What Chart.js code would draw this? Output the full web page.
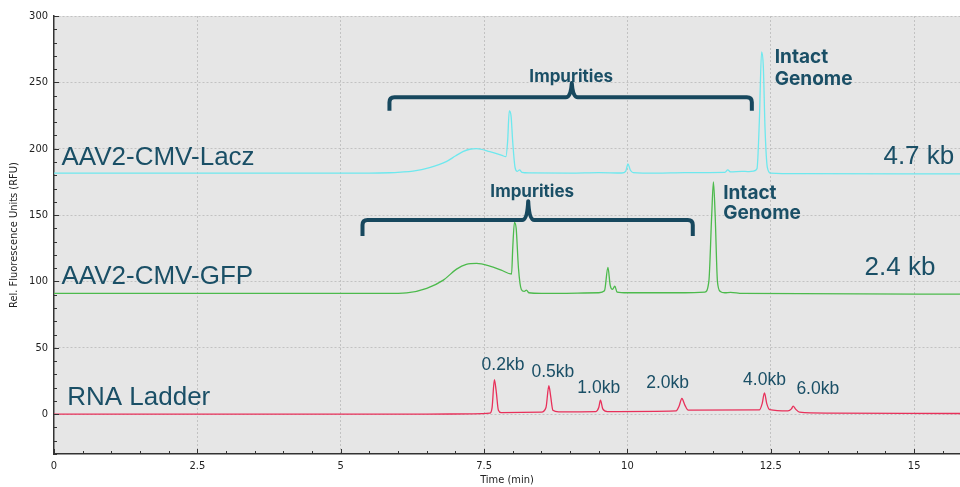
<!DOCTYPE html>
<html>
<head>
<meta charset="utf-8">
<script src="https://cdn.jsdelivr.net/npm/chart.js@4/dist/chart.umd.min.js"></script>
<style>
  html, body { margin: 0; padding: 0; background: #ffffff; }
  #wrap { width: 960px; height: 487px; }
</style>
</head>
<body>
<div id="wrap"><canvas id="c" width="960" height="487"></canvas></div>
<script>
// Electropherogram traces: migration time (min) and fluorescence (RFU)
const laczTime = [0, 5.5, 5.85, 6.05, 6.26, 6.55, 6.84, 7.0, 7.13, 7.25, 7.37, 7.6, 7.8, 7.88, 7.91, 7.94, 7.97, 8.0, 8.04, 8.08, 8.12, 8.16, 8.3, 9.0, 9.5, 9.9, 9.97, 10.01, 10.05, 10.1, 10.5, 11.0, 11.7, 11.75, 11.8, 12.0, 12.1, 12.2, 12.26, 12.3, 12.34, 12.37, 12.4, 12.44, 12.5, 13.0, 15.8];
const laczRfu  = [181.6, 181.6, 181.9, 182.4, 183.2, 185.8, 190.3, 194.5, 197.8, 199.6, 200.1, 197.8, 195.2, 194.0, 205, 228.5, 225, 205, 186, 183, 184, 182.2, 181.8, 181.6, 182, 181.7, 183, 188.5, 184, 182, 181.6, 182, 182.2, 184, 182.5, 183, 182.8, 183.2, 185, 220, 273, 262, 215, 186, 181.6, 181.2, 181];

const gfpTime = [0, 5.8, 6.15, 6.5, 6.79, 7.02, 7.19, 7.37, 7.6, 7.8, 7.98, 8.0, 8.03, 8.06, 8.1, 8.15, 8.2, 8.24, 8.28, 8.5, 9.5, 9.6, 9.66, 9.7, 9.74, 9.78, 9.82, 10.0, 11.0, 11.35, 11.42, 11.47, 11.5, 11.53, 11.57, 11.62, 11.7, 11.8, 12.0, 15.8];
const gfpRfu  = [91, 91, 91.4, 94.8, 101, 109.3, 112.9, 113.6, 111.6, 108.5, 105.6, 125, 144.5, 140, 110, 94, 92.5, 93.5, 91.5, 91, 91.5, 93, 110.5, 97, 94, 96.5, 92, 91.5, 91.5, 92, 100, 150, 175, 150, 100, 92.5, 91.5, 91.8, 91, 90.5];

const ladderTime = [0, 6.5, 7.3, 7.6, 7.64, 7.68, 7.71, 7.75, 7.8, 8.5, 8.58, 8.63, 8.66, 8.7, 8.8, 9.45, 9.5, 9.53, 9.57, 9.65, 10.85, 10.9, 10.95, 11.0, 11.06, 12.3, 12.35, 12.39, 12.43, 12.48, 12.8, 12.86, 12.89, 12.93, 13.0, 13.5, 15.8];
const ladderRfu  = [0, 0, 0.3, 0.8, 5, 26, 18, 3, 1.2, 1.5, 5, 21.5, 14, 3, 1.8, 2, 5, 10.5, 4, 2, 2.5, 6, 11.8, 7, 3, 3.2, 8, 16, 8, 3.5, 2.5, 4, 6, 4, 1.5, 0.8, 0.5];

// Sample names and fragment sizes
const traceNames = ['AAV2-CMV-Lacz', 'AAV2-CMV-GFP', 'RNA Ladder'];
const genomeSizes = ['4.7 kb', '2.4 kb'];
const ladderSizes = ['0.2kb', '0.5kb', '1.0kb', '2.0kb', '4.0kb', '6.0kb'];

// Axis ranges and tick spacing
const timeRange = [0, 15.8];
const rfuRange = [-30, 300];
const timeMajor = 2.5, timeMinor = 0.5;
const rfuMajor = 50, rfuMinor = 10;

const TEXT = '#1a4f66';
const NAME_FONT = '26px "Liberation Sans", Arial, sans-serif';
const BOLD_FONT = 'bold 19px Inter, Roboto, sans-serif';

// Text placed in data coordinates (time, RFU)
const notes = [
  { text: traceNames[0], t: 0.13, v: 193,   font: NAME_FONT, align: 'left' },
  { text: traceNames[1], t: 0.13, v: 103.3, font: NAME_FONT, align: 'left' },
  { text: traceNames[2], t: 0.23, v: 12,    font: NAME_FONT, align: 'left' },
  { text: genomeSizes[0], t: 15.7, v: 194,  font: NAME_FONT, align: 'right' },
  { text: genomeSizes[1], t: 15.37, v: 109.9, font: NAME_FONT, align: 'right' },
  { text: 'Intact', t: 12.57, v: 269,   font: BOLD_FONT, align: 'left' },
  { text: 'Genome', t: 12.57, v: 252.6, font: BOLD_FONT, align: 'left' },
  { text: 'Intact', t: 11.67, v: 166.7, font: BOLD_FONT, align: 'left' },
  { text: 'Genome', t: 11.67, v: 151.6, font: BOLD_FONT, align: 'left' },
  { text: 'Impurities', t: 9.02, v: 254.1, font: 'bold 17px Inter, Roboto, sans-serif', align: 'center' },
  { text: 'Impurities', t: 8.34, v: 167.6, font: 'bold 17px Inter, Roboto, sans-serif', align: 'center' }
];
const ladderLabelT = [7.83, 8.70, 9.50, 10.70, 12.39, 13.32];
const ladderLabelV = [37, 31.9, 19.8, 23.2, 26, 18.6];
ladderSizes.forEach((s, i) => notes.push({
  text: s, t: ladderLabelT[i], v: ladderLabelV[i],
  font: '17.5px "Liberation Sans", Arial, sans-serif', align: 'center'
}));

// Curly brackets spanning the impurity region of each sample
const brackets = [
  { left: 5.85, right: 12.17, mid: 9.03, line: 238.8, arm: 228.7, tip: 249.5 },
  { left: 5.38, right: 11.14, mid: 8.27, line: 146.3, arm: 134.3, tip: 160.5 }
];

function pts(ts, vs) { return ts.map((t, i) => ({ x: t, y: vs[i] })); }
function isMultiple(v, step) { return Math.abs(v / step - Math.round(v / step)) < 1e-6; }

const decor = {
  id: 'decor',
  beforeDraw(chart) {
    const { ctx, chartArea: a } = chart;
    ctx.save();
    ctx.fillStyle = '#e6e6e6';
    ctx.fillRect(a.left, a.top, a.right - a.left, a.bottom - a.top);
    ctx.restore();
  },
  afterDatasetsDraw(chart) {
    const { ctx } = chart;
    const xs = chart.scales.x, ys = chart.scales.y;
    ctx.save();
    // brackets
    ctx.strokeStyle = '#17485e';
    ctx.lineWidth = 4;
    ctx.lineJoin = 'round';
    ctx.lineCap = 'butt';
    brackets.forEach(b => {
      const xl = xs.getPixelForValue(b.left), xr = xs.getPixelForValue(b.right);
      const xm = xs.getPixelForValue(b.mid);
      const yl = ys.getPixelForValue(b.line), ya = ys.getPixelForValue(b.arm);
      const yt = ys.getPixelForValue(b.tip);
      const r = 5, w = 6;
      ctx.beginPath();
      ctx.moveTo(xl, ya);
      ctx.lineTo(xl, yl + r);
      ctx.quadraticCurveTo(xl, yl, xl + r, yl);
      ctx.lineTo(xm - w, yl);
      ctx.quadraticCurveTo(xm - 1, yl, xm, yt);
      ctx.quadraticCurveTo(xm + 1, yl, xm + w, yl);
      ctx.lineTo(xr - r, yl);
      ctx.quadraticCurveTo(xr, yl, xr, yl + r);
      ctx.lineTo(xr, ya);
      ctx.stroke();
    });
    // labels
    ctx.fillStyle = TEXT;
    ctx.textBaseline = 'middle';
    notes.forEach(n => {
      ctx.font = n.font;
      ctx.textAlign = n.align;
      ctx.fillText(n.text, xs.getPixelForValue(n.t), ys.getPixelForValue(n.v));
    });
    ctx.restore();
  },
  afterDraw(chart) {
    const { ctx, chartArea: a } = chart;
    const xs = chart.scales.x, ys = chart.scales.y;
    ctx.save();
    ctx.strokeStyle = '#333333';
    ctx.lineWidth = 1;
    xs.ticks.forEach(tk => {
      if (!isMultiple(tk.value, timeMinor)) return;
      const px = Math.round(xs.getPixelForValue(tk.value)) + 0.5;
      const len = isMultiple(tk.value, timeMajor) ? 5 : 3;
      ctx.beginPath(); ctx.moveTo(px, a.bottom); ctx.lineTo(px, a.bottom - len); ctx.stroke();
    });
    ys.ticks.forEach(tk => {
      if (!isMultiple(tk.value, rfuMinor)) return;
      const py = Math.round(ys.getPixelForValue(tk.value)) + 0.5;
      const len = isMultiple(tk.value, rfuMajor) ? 5 : 3;
      ctx.beginPath(); ctx.moveTo(a.left, py); ctx.lineTo(a.left + len, py); ctx.stroke();
    });
    ctx.restore();
  }
};

const tickFont = { family: '"DejaVu Sans Condensed", "Liberation Sans", sans-serif', size: 11 };

new Chart(document.getElementById('c'), {
  type: 'line',
  data: {
    datasets: [
      { label: traceNames[0], data: pts(laczTime, laczRfu), borderColor: '#6ee8ee', borderWidth: 1.3 },
      { label: traceNames[1], data: pts(gfpTime, gfpRfu), borderColor: '#4cba4c', borderWidth: 1.3 },
      { label: traceNames[2], data: pts(ladderTime, ladderRfu), borderColor: '#e8305a', borderWidth: 1.3 }
    ]
  },
  options: {
    responsive: false,
    animation: false,
    devicePixelRatio: 1,
    elements: { point: { radius: 0 }, line: { cubicInterpolationMode: 'monotone', fill: false } },
    layout: { padding: { top: 16, right: 0, left: 0, bottom: 0 } },
    plugins: { legend: { display: false }, tooltip: { enabled: false } },
    scales: {
      x: {
        type: 'linear',
        min: timeRange[0], max: timeRange[1],
        afterFit(s) { s.height = 33; },
        border: { display: true, color: '#333333', width: 1.5, dash: [2, 2] },
        grid: {
          drawTicks: false,
          lineWidth: 1,
          color: c => (c.tick && c.tick.value > 0 && isMultiple(c.tick.value, timeMajor)) ? '#c2c2c2' : 'rgba(0,0,0,0)'
        },
        ticks: {
          stepSize: timeMinor, autoSkip: false, includeBounds: false, maxRotation: 0, padding: 6,
          color: '#222222', font: tickFont,
          callback: v => isMultiple(v, timeMajor) ? String(v) : ''
        },
        title: { display: true, text: 'Time (min)', color: '#222222', font: tickFont, padding: { top: 0, bottom: 0 } }
      },
      y: {
        type: 'linear',
        min: rfuRange[0], max: rfuRange[1],
        afterFit(s) { s.width = 54; },
        border: { display: true, color: '#333333', width: 1.5, dash: [2, 2] },
        grid: {
          drawTicks: false,
          lineWidth: 1,
          color: c => (c.tick && isMultiple(c.tick.value, rfuMajor)) ? '#c2c2c2' : 'rgba(0,0,0,0)'
        },
        ticks: {
          stepSize: rfuMinor, autoSkip: false, includeBounds: false, padding: 6,
          color: '#222222', font: tickFont,
          callback: v => isMultiple(v, rfuMajor) ? String(v) : ''
        },
        title: { display: true, text: 'Rel. Fluorescence Units (RFU)', color: '#222222', font: tickFont, padding: { top: 8, bottom: 0 } }
      }
    }
  },
  plugins: [decor]
});
</script>
</body>
</html>
